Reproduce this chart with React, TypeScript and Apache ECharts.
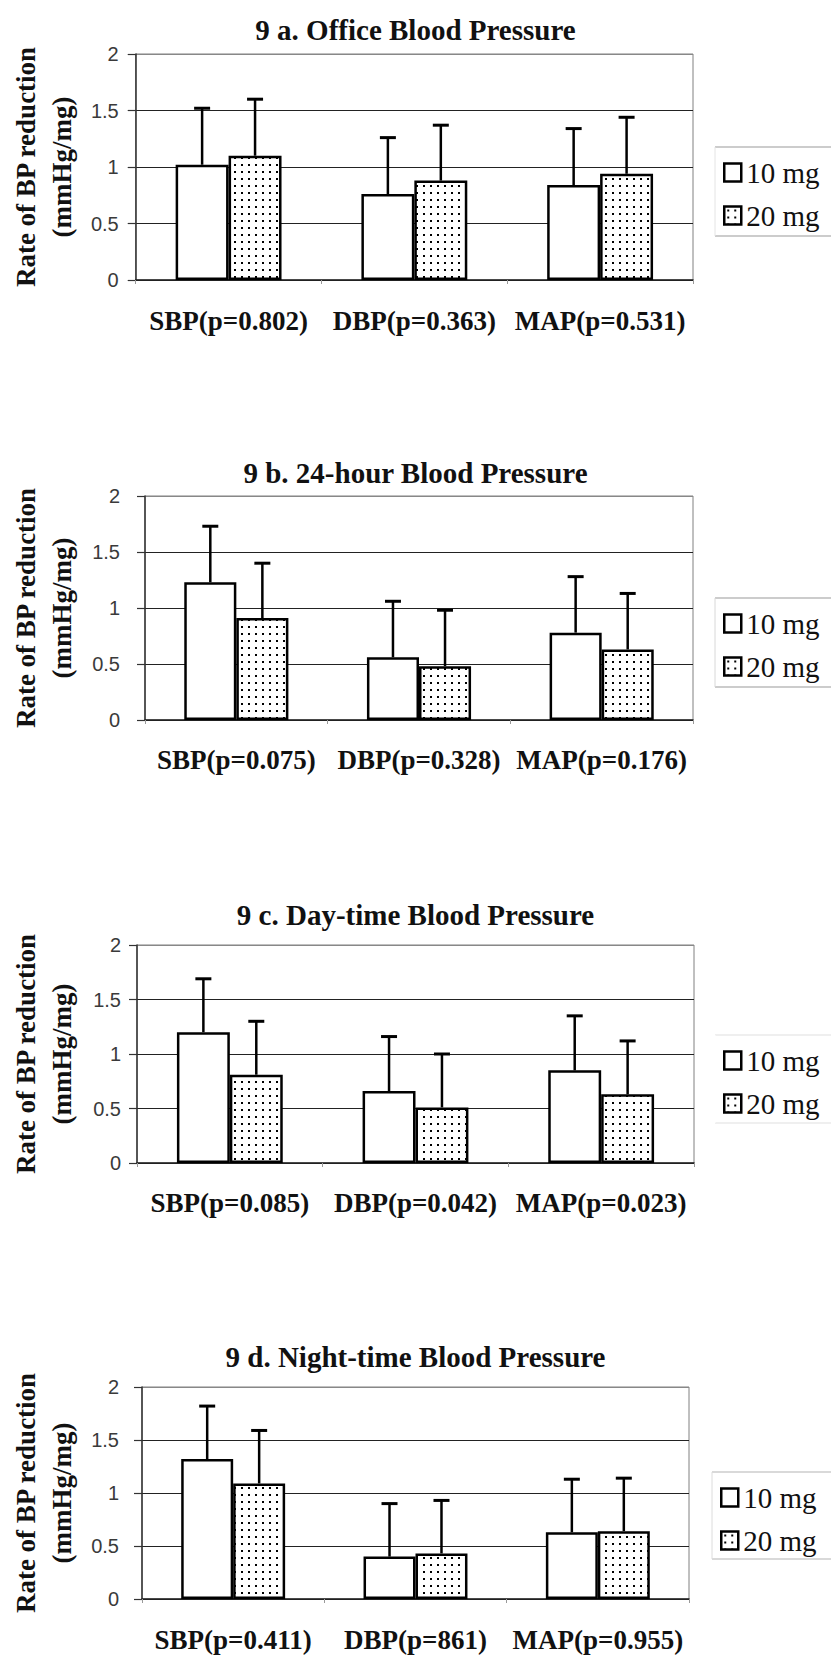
import React, { useEffect, useRef } from "react";
import * as echarts from "echarts";

const titles = [
  "9 a. Office Blood Pressure",
  "9 b. 24-hour Blood Pressure",
  "9 c. Day-time Blood Pressure",
  "9 d. Night-time Blood Pressure",
];

const categoriesA = ["SBP(p=0.802)", "DBP(p=0.363)", "MAP(p=0.531)"];
const categoriesB = ["SBP(p=0.075)", "DBP(p=0.328)", "MAP(p=0.176)"];
const categoriesC = ["SBP(p=0.085)", "DBP(p=0.042)", "MAP(p=0.023)"];
const categoriesD = ["SBP(p=0.411)", "DBP(p=861)", "MAP(p=0.955)"];

// mean rate of BP reduction (mmHg/mg)
const mean10A = [1.02, 0.76, 0.84];
const mean20A = [1.1, 0.88, 0.94];
const mean10B = [1.23, 0.56, 0.78];
const mean20B = [0.91, 0.48, 0.63];
const mean10C = [1.2, 0.66, 0.85];
const mean20C = [0.81, 0.51, 0.63];
const mean10D = [1.32, 0.4, 0.63];
const mean20D = [1.09, 0.43, 0.64];

// standard deviations (upper error bars)
const sd10A = [0.5, 0.5, 0.5];
const sd20A = [0.5, 0.49, 0.5];
const sd10B = [0.5, 0.5, 0.5];
const sd20B = [0.49, 0.5, 0.5];
const sd10C = [0.49, 0.5, 0.5];
const sd20C = [0.49, 0.49, 0.49];
const sd10D = [0.5, 0.5, 0.5];
const sd20D = [0.5, 0.5, 0.5];

const seriesNames = ["10 mg", "20 mg"];
const yTicks = { min: 0, max: 2, interval: 0.5 };
const yAxisName = "Rate of BP reduction\n(mmHg/mg)";

const panels = [
  { cats: categoriesA, m10: mean10A, m20: mean20A, s10: sd10A, s20: sd20A },
  { cats: categoriesB, m10: mean10B, m20: mean20B, s10: sd10B, s20: sd20B },
  { cats: categoriesC, m10: mean10C, m20: mean20C, s10: sd10C, s20: sd20C },
  { cats: categoriesD, m10: mean10D, m20: mean20D, s10: sd10D, s20: sd20D },
];

// layout (pixels)
const layout = [
  { left: 131, right: 138, top: 54, height: 226, titleY: 30, nameGap: 53, labelMargin: 17, catMargin: 27, legTop: 147, legBottom: 236, legLeft: 715, legBorder: "#9a9a9a", legSide: "#e4e4e4" },
  { left: 143, right: 138, top: 496, height: 224, titleY: 473, nameGap: 65, labelMargin: 25, catMargin: 26, legTop: 598, legBottom: 687, legLeft: 715, legBorder: "#9a9a9a", legSide: "#d8d8d8" },
  { left: 135, right: 137, top: 945, height: 218, titleY: 915, nameGap: 57, labelMargin: 16, catMargin: 26, legTop: 1035, legBottom: 1123, legLeft: 715, legBorder: "#e0e0e0", legSide: "#ffffff" },
  { left: 140, right: 142, top: 1387, height: 212, titleY: 1357, nameGap: 62, labelMargin: 23, catMargin: 27, legTop: 1472, legBottom: 1559, legLeft: 712, legBorder: "#b4b4b4", legSide: "#dcdcdc" },
];

const SERIF = "'Liberation Serif', 'Times New Roman', serif";
const SANS = "'Liberation Sans', Arial, sans-serif";
const CAT_GAP = 0.43;

export default function App() {
  const ref = useRef<HTMLDivElement>(null);

  useEffect(() => {
    if (!ref.current) return;
    const chart = echarts.init(ref.current, null, { renderer: "svg" });

    const cv = document.createElement("canvas");
    cv.width = 7;
    cv.height = 7;
    const ctx = cv.getContext("2d");
    if (ctx) {
      ctx.fillStyle = "#ffffff";
      ctx.fillRect(0, 0, 7, 7);
      ctx.fillStyle = "#000000";
      ctx.fillRect(3, 3, 2, 2);
    }
    const dotPattern: any = { image: cv, repeat: "repeat", imageWidth: 7, imageHeight: 7 };

    const fills = ["#ffffff", dotPattern];

    const title: any[] = [];
    const grid: any[] = [];
    const xAxis: any[] = [];
    const yAxis: any[] = [];
    const legend: any[] = [];
    const series: any[] = [];
    const graphic: any[] = [];

    panels.forEach((p, i) => {
      const L = layout[i];
      title.push({
        text: titles[i],
        left: "center",
        top: L.titleY - 16,
        padding: 0,
        textStyle: { fontFamily: SERIF, fontWeight: "bold", fontSize: 29, lineHeight: 32, color: "#111" },
      });
      grid.push({
        left: L.left,
        right: L.right,
        top: L.top,
        height: L.height,
        show: true,
        borderColor: "#808080",
        borderWidth: 1,
        backgroundColor: "transparent",
      });
      xAxis.push({
        type: "category",
        gridIndex: i,
        data: p.cats,
        axisLine: { lineStyle: { color: "#222", width: 1.5 } },
        axisTick: { show: true, length: 4, lineStyle: { color: "#999" } },
        axisLabel: {
          interval: 0,
          margin: L.catMargin,
          fontFamily: SERIF,
          fontWeight: "bold",
          fontSize: 27,
          lineHeight: 27,
          color: "#111",
        },
      });
      yAxis.push({
        type: "value",
        gridIndex: i,
        min: yTicks.min,
        max: yTicks.max,
        interval: yTicks.interval,
        name: yAxisName,
        nameLocation: "middle",
        nameGap: L.nameGap,
        nameTextStyle: { fontFamily: SERIF, fontWeight: "bold", fontSize: 27, lineHeight: 36, color: "#111" },
        axisLine: { show: true, lineStyle: { color: "#333", width: 1.5 } },
        axisTick: { show: true, length: 8, lineStyle: { color: "#333", width: 1.2 } },
        axisLabel: { margin: L.labelMargin, fontFamily: SANS, fontSize: 20, color: "#3a3a3a" },
        splitLine: { show: true, lineStyle: { color: ["#222", "#222", "#222", "#222", "#888"], width: 1.2 } },
      });
      legend.push({
        orient: "vertical",
        left: L.legLeft,
        top: L.legTop,
        data: seriesNames,
        icon: "rect",
        itemWidth: 17,
        itemHeight: 18,
        itemGap: 14,
        padding: [11, 4, 5, 8],
        borderWidth: 0,
        selectedMode: false,
        itemStyle: { borderColor: "#000", borderWidth: 2.5 },
        textStyle: { fontFamily: SERIF, fontSize: 29, lineHeight: 29, color: "#111" },
      });
      // legend frame (cut off by the right page edge, as in the scan)
      graphic.push(
        {
          type: "line",
          silent: true,
          shape: { x1: L.legLeft, y1: L.legTop, x2: 831, y2: L.legTop },
          style: { stroke: L.legBorder, lineWidth: 1.2 },
        },
        {
          type: "line",
          silent: true,
          shape: { x1: L.legLeft, y1: L.legBottom, x2: 831, y2: L.legBottom },
          style: { stroke: L.legBorder, lineWidth: 1.2 },
        },
        {
          type: "line",
          silent: true,
          shape: { x1: L.legLeft, y1: L.legTop, x2: L.legLeft, y2: L.legBottom },
          style: { stroke: L.legSide, lineWidth: 1 },
        }
      );

      const means = [p.m10, p.m20];
      const sds = [p.s10, p.s20];
      means.forEach((m, k) => {
        series.push({
          type: "bar",
          name: seriesNames[k],
          xAxisIndex: i,
          yAxisIndex: i,
          data: m,
          barGap: "0%",
          barCategoryGap: CAT_GAP * 100 + "%",
          itemStyle: { color: fills[k], borderColor: "#000", borderWidth: 2.5 },
          emphasis: { disabled: true },
          z: 2,
        });
      });
      means.forEach((m, k) => {
        const sign = k === 0 ? -1 : 1;
        series.push({
          type: "custom",
          name: "err" + i + "_" + k,
          xAxisIndex: i,
          yAxisIndex: i,
          data: m.map((v, ci) => [ci, v, sds[k][ci]]),
          encode: { x: 0, y: 1 },
          z: 3,
          renderItem: (params: any, api: any) => {
            const ci = api.value(0);
            const mv = api.value(1);
            const sd = api.value(2);
            const band = api.size([1, 0])[0];
            const bw = (band * (1 - CAT_GAP)) / 2;
            const base = api.coord([ci, mv]);
            const top = api.coord([ci, mv + sd]);
            const x = base[0] + (sign * bw) / 2;
            return {
              type: "group",
              children: [
                {
                  type: "line",
                  shape: { x1: x, y1: base[1], x2: x, y2: top[1] },
                  style: { stroke: "#000", lineWidth: 2.5 },
                },
                {
                  type: "line",
                  shape: { x1: x - 8, y1: top[1], x2: x + 8, y2: top[1] },
                  style: { stroke: "#000", lineWidth: 3 },
                },
              ],
            };
          },
        });
      });
    });

    chart.setOption({
      animation: false,
      backgroundColor: "#ffffff",
      title,
      grid,
      xAxis,
      yAxis,
      legend,
      graphic,
      series,
    });

    return () => {
      chart.dispose();
    };
  }, []);

  return (
    <div
      ref={ref}
      style={{ position: "absolute", left: 0, top: 0, width: 831, height: 1655, background: "#fff" }}
    />
  );
}
